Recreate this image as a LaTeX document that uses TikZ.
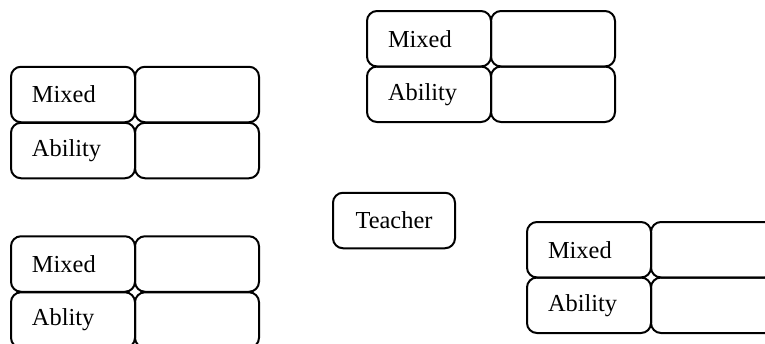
\documentclass[tikz,border=0pt]{standalone}
\usepackage{fontspec}
\setmainfont{Liberation Serif}
\begin{document}
\begin{tikzpicture}[x=0.5pt,y=-0.5pt,
  box/.style={draw, line width=1pt, rounded corners=5pt, minimum height=27.75pt},
  cell/.style={box, text width=41pt, inner xsep=10.5pt, align=left, font=\fontsize{12.2}{14}\selectfont},
  blank/.style={box, minimum width=62pt, inner sep=0pt},
  teach/.style={box, minimum width=61pt, align=center, font=\fontsize{12.2}{14}\selectfont}]
\useasboundingbox (0,0) rectangle (765,343);
\clip (0,0) rectangle (765,343);
% group top-left
\node[cell] (a1) at (73,94.5) {Mixed};
\node[blank] (a2) at (197,94.5) {};
\node[cell] (a3) at (73,150.5) {Ability};
\node[blank] (a4) at (197,150.5) {};
% group top
\node[cell] (b1) at (429,38.75) {Mixed};
\node[blank] (b2) at (553,38.75) {};
\node[cell] (b3) at (429,94.25) {Ability};
\node[blank] (b4) at (553,94.25) {};
% group right bottom
\node[cell] (c1) at (589,249.75) {Mixed};
\node[blank] (c2) at (713,249.75) {};
\node[cell] (c3) at (589,305.25) {Ability};
\node[blank] (c4) at (713,305.25) {};
% group left bottom
\node[cell] (d1) at (73,264) {Mixed};
\node[blank] (d2) at (197,264) {};
\node[cell] (d3) at (73,320) {Ablity};
\node[blank] (d4) at (197,320) {};
% teacher
\node[teach] (t) at (394,220.5) {Teacher};
\end{tikzpicture}
\end{document}
